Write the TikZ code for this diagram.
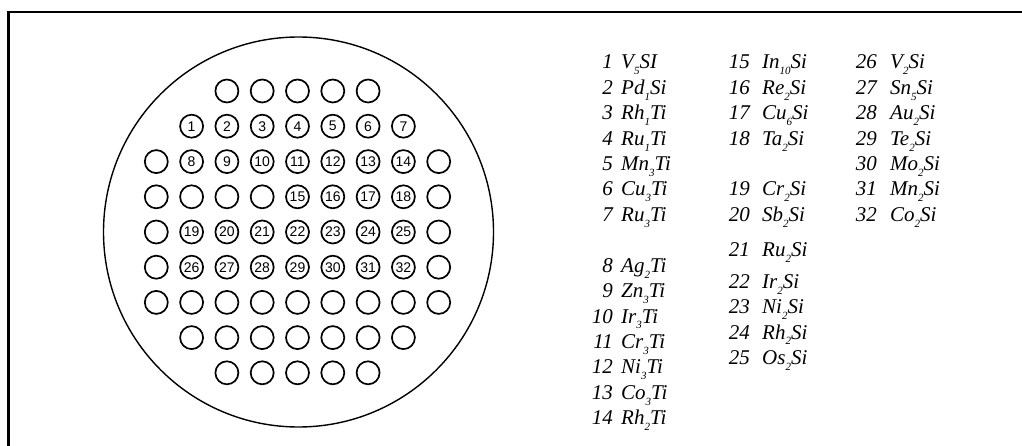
\documentclass[tikz,border=0pt]{standalone}
\usepackage{fontspec}
\setmainfont{Liberation Serif}
\newfontfamily\holefont{Liberation Sans}
% lowered small index for the compound formulas
\newcommand\chemsub[1]{\raisebox{-0.28em}{\fontsize{11}{11}\selectfont #1}}
\begin{document}
\begin{tikzpicture}[x=1pt,y=-1pt,
  hole/.style={circle, draw, line width=1.7pt, minimum size=23pt, inner sep=0pt,
               font=\holefont\fontsize{14}{14}\selectfont},
  wafer/.style={draw, line width=1.4pt},
  frameline/.style={line width=2.7pt},
  num/.style={anchor=base east, inner sep=0pt, font=\itshape\fontsize{21}{21}\selectfont},
  formula/.style={anchor=base west, inner sep=0pt, font=\itshape\fontsize{21}{21}\selectfont}]
\useasboundingbox (0,0) rectangle (1022,446);

% frame (top and left edges)
\coordinate (fr1) at (8.7,446);
\coordinate (fr2) at (8.7,12);
\coordinate (fr3) at (1022,12);
\draw[frameline] (fr1) -- (fr2) -- (fr3);

% wafer outline
\node[wafer, circle, minimum size=390pt, inner sep=0pt] (wafer) at (298.5,232) {};

% hole grid: columns 1..9, rows a..i
\def\colx#1{297.5+35.3*(#1-5)}
\foreach \k in {3,...,7}
  \node[hole] (a\k) at ({\colx{\k}},91) {};
\foreach \k/\t in {2/1,3/2,4/3,5/4,6/5,7/6,8/7}
  \node[hole] (b\k) at ({\colx{\k}},126.2) {\t};
\foreach \k/\t in {1/{},2/8,3/9,4/10,5/11,6/12,7/13,8/14,9/{}}
  \node[hole] (c\k) at ({\colx{\k}},161.6) {\t};
\foreach \k/\t in {1/{},2/{},3/{},4/{},5/15,6/16,7/17,8/18,9/{}}
  \node[hole] (d\k) at ({\colx{\k}},196.8) {\t};
\foreach \k/\t in {1/{},2/19,3/20,4/21,5/22,6/23,7/24,8/25,9/{}}
  \node[hole] (e\k) at ({\colx{\k}},232) {\t};
\foreach \k/\t in {1/{},2/26,3/27,4/28,5/29,6/30,7/31,8/32,9/{}}
  \node[hole] (f\k) at ({\colx{\k}},267.2) {\t};
\foreach \k in {1,...,9}
  \node[hole] (g\k) at ({\colx{\k}},302.4) {};
\foreach \k in {2,...,8}
  \node[hole] (h\k) at ({\colx{\k}},337.6) {};
\foreach \k in {3,...,7}
  \node[hole] (i\k) at ({\colx{\k}},372.8) {};

% key: first column
\foreach \r/\n/\f in {0/1/{V\chemsub{5}SI}, 1/2/{Pd\chemsub{1}Si}, 2/3/{Rh\chemsub{1}Ti},
    3/4/{Ru\chemsub{1}Ti}, 4/5/{Mn\chemsub{3}Ti}, 5/6/{Cu\chemsub{3}Ti}, 6/7/{Ru\chemsub{3}Ti},
    8/8/{Ag\chemsub{2}Ti}, 9/9/{Zn\chemsub{3}Ti}, 10/10/{Ir\chemsub{3}Ti}, 11/11/{Cr\chemsub{3}Ti},
    12/12/{Ni\chemsub{3}Ti}, 13/13/{Co\chemsub{3}Ti}, 14/14/{Rh\chemsub{2}Ti}} {
  \node[num] (kn\n) at (613,{69+25.4*\r}) {\n};
  \node[formula] (kf\n) at (621,{69+25.4*\r}) {\f};
}
% key: second column
\foreach \r/\n/\f in {0/15/{In\chemsub{10}Si}, 1/16/{Re\chemsub{2}Si}, 2/17/{Cu\chemsub{6}Si},
    3/18/{Ta\chemsub{2}Si}, 5/19/{Cr\chemsub{2}Si}, 6/20/{Sb\chemsub{2}Si}, 7.37/21/{Ru\chemsub{2}Si},
    8.63/22/{Ir\chemsub{2}Si}, 9.63/23/{Ni\chemsub{2}Si}, 10.63/24/{Rh\chemsub{2}Si},
    11.63/25/{Os\chemsub{2}Si}} {
  \node[num] (kn\n) at (750,{69+25.4*\r}) {\n};
  \node[formula] (kf\n) at (762,{69+25.4*\r}) {\f};
}
% key: third column
\foreach \r/\n/\f in {0/26/{V\chemsub{2}Si}, 1/27/{Sn\chemsub{5}Si}, 2/28/{Au\chemsub{2}Si},
    3/29/{Te\chemsub{2}Si}, 4/30/{Mo\chemsub{2}Si}, 5/31/{Mn\chemsub{2}Si}, 6/32/{Co\chemsub{2}Si}} {
  \node[num] (kn\n) at (877,{69+25.4*\r}) {\n};
  \node[formula] (kf\n) at (890,{69+25.4*\r}) {\f};
}
\end{tikzpicture}
\end{document}
